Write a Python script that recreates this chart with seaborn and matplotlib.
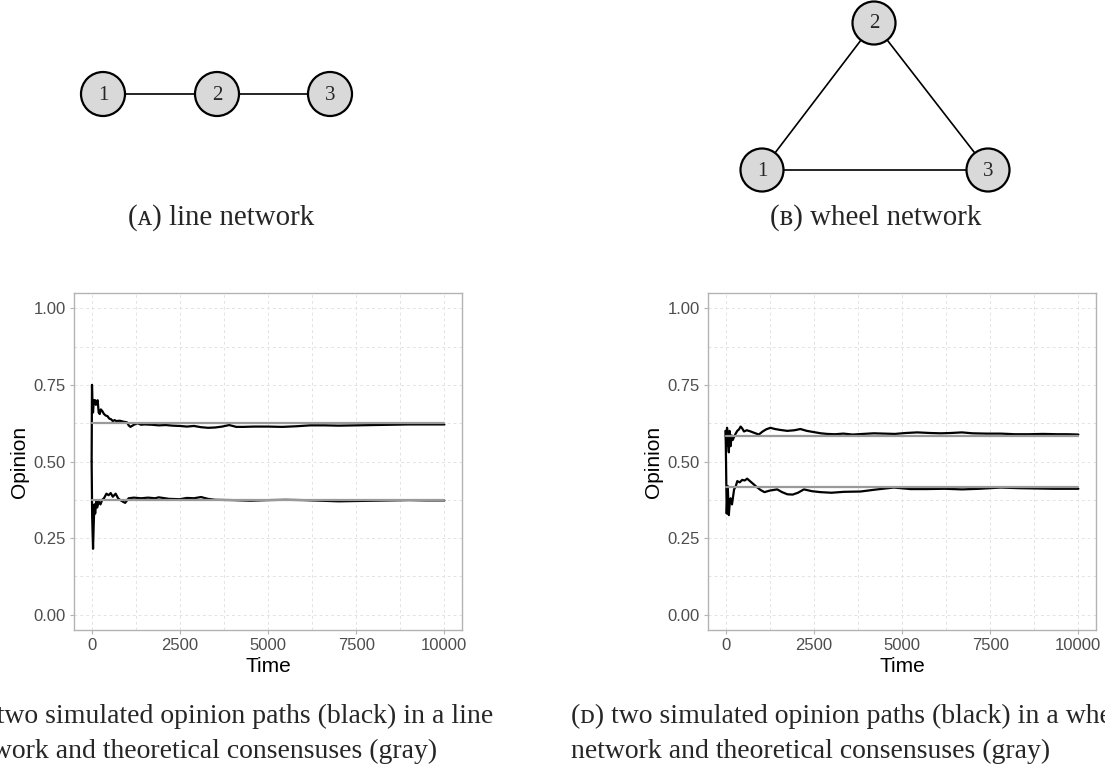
import numpy as np
import pandas as pd
import matplotlib
matplotlib.use("Agg")
import matplotlib.pyplot as plt
import seaborn as sns
from matplotlib.patches import Circle
from matplotlib.ticker import MultipleLocator

# ---------------- data ----------------
# line network (panel C)
line_t1 = [0, 10, 25, 40, 60, 80, 100, 120, 140, 170, 200, 230, 260, 300, 350, 400, 450, 500, 550, 600,
           650, 700, 800, 900, 1000, 1050, 1100, 1200, 1300, 1400, 1500, 1700, 1900, 2100, 2300, 2500,
           2700, 2900, 3100, 3300, 3500, 3700, 3900, 4100, 4300, 4600, 5000, 5400, 5800, 6200, 6600,
           7000, 7500, 8000, 8500, 9000, 9500, 10000]
line_v1 = [0.50, 0.75, 0.68, 0.66, 0.70, 0.69, 0.70, 0.685, 0.695, 0.70, 0.66, 0.655, 0.67, 0.665,
           0.655, 0.65, 0.648, 0.64, 0.638, 0.632, 0.635, 0.632, 0.633, 0.630, 0.628, 0.618, 0.613,
           0.620, 0.625, 0.620, 0.621, 0.620, 0.618, 0.619, 0.617, 0.616, 0.614, 0.616, 0.612, 0.610,
           0.611, 0.614, 0.619, 0.613, 0.613, 0.614, 0.614, 0.613, 0.615, 0.618, 0.618, 0.617, 0.618,
           0.619, 0.620, 0.621, 0.621, 0.621]
line_t2 = [0, 15, 40, 60, 80, 100, 130, 160, 200, 250, 300, 350, 420, 480, 540, 600, 680, 750, 800,
           900, 950, 1050, 1200, 1400, 1600, 1800, 1900, 2200, 2500, 2700, 2900, 3100, 3300, 3500,
           4000, 4500, 5000, 5500, 6000, 6500, 7000, 7500, 8000, 8500, 9000, 9500, 10000]
line_v2 = [0.50, 0.32, 0.215, 0.30, 0.36, 0.33, 0.37, 0.35, 0.37, 0.36, 0.375, 0.38, 0.395, 0.39,
           0.397, 0.385, 0.395, 0.380, 0.375, 0.368, 0.365, 0.380, 0.382, 0.380, 0.382, 0.380, 0.383,
           0.378, 0.377, 0.381, 0.380, 0.384, 0.378, 0.375, 0.374, 0.372, 0.374, 0.375, 0.374, 0.372,
           0.370, 0.371, 0.372, 0.373, 0.374, 0.373, 0.373]
line_consensus = [0.625, 0.375]

# wheel network (panel D)
wheel_t1 = [0, 20, 40, 70, 90, 110, 140, 170, 200, 230, 280, 330, 380, 425, 470, 520, 600, 710, 800,
            940, 1050, 1150, 1270, 1400, 1550, 1750, 1950, 2120, 2300, 2500, 2700, 2880, 3100, 3340,
            3600, 3900, 4200, 4500, 4800, 5100, 5435, 5800, 6100, 6380, 6700, 7000, 7400, 7800, 8200,
            8600, 9000, 9400, 9700, 10000]
wheel_v1 = [0.60, 0.55, 0.61, 0.56, 0.53, 0.60, 0.55, 0.585, 0.57, 0.578, 0.59, 0.60, 0.605, 0.614,
            0.608, 0.598, 0.602, 0.598, 0.594, 0.588, 0.598, 0.605, 0.610, 0.606, 0.603, 0.600, 0.602,
            0.606, 0.600, 0.596, 0.592, 0.590, 0.589, 0.591, 0.588, 0.590, 0.592, 0.591, 0.590, 0.593,
            0.595, 0.593, 0.592, 0.593, 0.595, 0.592, 0.591, 0.591, 0.589, 0.589, 0.590, 0.589, 0.589,
            0.588]
wheel_t2 = [0, 30, 60, 90, 120, 140, 180, 240, 290, 330, 400, 470, 540, 610, 700, 800, 900, 990, 1100,
            1250, 1460, 1600, 1750, 1900, 2050, 2220, 2450, 2690, 3000, 3350, 3820, 4300, 4770, 5240,
            5700, 6200, 6700, 7200, 7800, 8300, 8800, 9300, 10000]
wheel_v2 = [0.60, 0.33, 0.42, 0.325, 0.37, 0.38, 0.36, 0.409, 0.42, 0.436, 0.432, 0.440, 0.438, 0.444,
            0.435, 0.425, 0.415, 0.407, 0.400, 0.405, 0.409, 0.400, 0.393, 0.392, 0.398, 0.409, 0.403,
            0.400, 0.398, 0.401, 0.402, 0.409, 0.415, 0.410, 0.410, 0.411, 0.409, 0.411, 0.415, 0.413,
            0.412, 0.411, 0.411]
wheel_consensus = [7 / 12, 5 / 12]

x_ticks = [0, 2500, 5000, 7500, 10000]
y_ticks = [0.00, 0.25, 0.50, 0.75, 1.00]
y_tick_labels = ["0.00", "0.25", "0.50", "0.75", "1.00"]

node_labels = ["1", "2", "3"]
line_edges = [(0, 1), (1, 2)]
wheel_edges = [(0, 1), (1, 2), (0, 2)]

cap_a = "(\u1d00) line network"
cap_b = "(\u0299) wheel network"
cap_c = ["(\u1d04) two simulated opinion paths (black) in a line",
         "network and theoretical consensuses (gray)"]
cap_d = ["(\u1d05) two simulated opinion paths (black) in a wheel",
         "network and theoretical consensuses (gray)"]

# ---------------- style ----------------
sns.set_theme(style="white")
plt.rcParams['font.family'] = ['Liberation Sans', 'DejaVu Sans']
SERIF = ['Liberation Serif', 'DejaVu Serif']

W, H = 1105, 775
fig = plt.figure(figsize=(W / 100, H / 100), dpi=100)
fig.patch.set_facecolor("white")


def px_axes(x0, y0, x1, y1):
    return fig.add_axes([x0 / W, (H - y1) / H, (x1 - x0) / W, (y1 - y0) / H])


def draw_panel(ax, paths, consensus):
    for t, v in paths:
        df = pd.DataFrame({"Time": t, "Opinion": v})
        sns.lineplot(data=df, x="Time", y="Opinion", ax=ax, color="black", lw=1.6,
                     estimator=None, sort=False, zorder=3)
    for c in consensus:
        dfc = pd.DataFrame({"Time": [0, 10000], "Opinion": [c, c]})
        sns.lineplot(data=dfc, x="Time", y="Opinion", ax=ax, color="#9a9a9a", lw=1.6,
                     estimator=None, zorder=4)
    ax.set_xlim(-500, 10500)
    ax.set_ylim(-0.05, 1.05)
    ax.set_xticks(x_ticks)
    ax.set_xticklabels([str(x) for x in x_ticks])
    ax.set_yticks(y_ticks)
    ax.set_yticklabels(y_tick_labels)
    ax.xaxis.set_minor_locator(MultipleLocator(1250))
    ax.yaxis.set_minor_locator(MultipleLocator(0.125))
    ax.grid(which="both", color="#e3e3e3", lw=0.7, ls=(0, (3, 3)), zorder=0)
    ax.set_axisbelow(True)
    for s in ax.spines.values():
        s.set_color("#b3b3b3")
        s.set_linewidth(1.0)
    ax.tick_params(which="major", direction="out", length=3, width=0.8, color="#b3b3b3",
                   labelsize=12, labelcolor="#4d4d4d", pad=3, bottom=True, left=True)
    ax.tick_params(which="minor", length=0)
    ax.set_xlabel("Time", fontsize=15, color="black", labelpad=3)
    ax.set_ylabel("Opinion", fontsize=15, color="black", labelpad=3)


axL = px_axes(74, 293, 462, 630)
draw_panel(axL, [(line_t1, line_v1), (line_t2, line_v2)], line_consensus)
axR = px_axes(708, 293, 1096, 630)
draw_panel(axR, [(wheel_t1, wheel_v1), (wheel_t2, wheel_v2)], wheel_consensus)

# ---------------- overlay: network diagrams and captions ----------------
ov = fig.add_axes([0, 0, 1, 1])
ov.set_xlim(0, W)
ov.set_ylim(H, 0)
ov.axis("off")
ov.patch.set_alpha(0)


def draw_network(pos, edges, r):
    for a, b in edges:
        ov.plot([pos[a][0], pos[b][0]], [pos[a][1], pos[b][1]], color="black", lw=1.2, zorder=1)
    for (x, y), lab in zip(pos, node_labels):
        ov.add_patch(Circle((x, y), r, facecolor="#d9d9d9", edgecolor="black", lw=1.6, zorder=2))
        ov.text(x, y + 1, lab, ha="center", va="center", fontsize=15, family=SERIF, zorder=3)


draw_network([(103, 94), (217, 94), (330, 94)], line_edges, 22)
draw_network([(762, 170), (874, 23), (988, 170)], wheel_edges, 21.5)

# fit caption font size so that line 2 spans ~482 px
probe = ov.text(0, 0, cap_d[1], fontsize=15, family=SERIF)
fig.canvas.draw()
wpx = probe.get_window_extent().width
probe.remove()
fs = 15 * 482 / wpx

ov.text(221, 225, cap_a, ha="center", va="baseline", fontsize=fs * 1.04, family=SERIF)
ov.text(876, 225, cap_b, ha="center", va="baseline", fontsize=fs * 1.04, family=SERIF)
for i, s in enumerate(cap_c):
    ov.text(-42, 723 + 35 * i, s, ha="left", va="baseline", fontsize=fs, family=SERIF, clip_on=False)
for i, s in enumerate(cap_d):
    ov.text(571, 723 + 35 * i, s, ha="left", va="baseline", fontsize=fs, family=SERIF, clip_on=False)

fig.savefig("out.png", dpi=100, facecolor="white")
